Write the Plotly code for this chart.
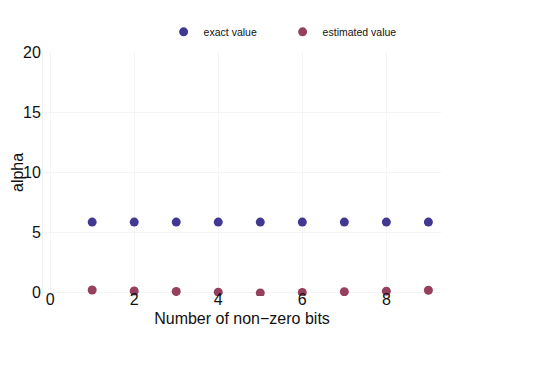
import plotly.graph_objects as go

bits = [1, 2, 3, 4, 5, 6, 7, 8, 9]
exact_value = [5.85, 5.85, 5.85, 5.85, 5.85, 5.85, 5.85, 5.85, 5.85]
estimated_value = [0.2, 0.12, 0.07, 0.02, -0.05, 0.0, 0.05, 0.1, 0.18]

blue = "#413891"
red = "#96405f"

fig = go.Figure()
fig.add_trace(go.Scatter(x=bits, y=exact_value, mode="markers", name="exact value",
                         marker=dict(color=blue, size=9)))
fig.add_trace(go.Scatter(x=bits, y=estimated_value, mode="markers", name="estimated value",
                         marker=dict(color=red, size=9)))

fig.update_layout(
    width=540, height=379,
    margin=dict(l=43, r=99, t=52, b=83, autoexpand=False),
    paper_bgcolor="white", plot_bgcolor="white",
    font=dict(family="Liberation Sans, Arial, sans-serif", color="#111"),
    showlegend=True,
    legend=dict(orientation="h", xref="container", yref="container",
                x=0.303, xanchor="left", y=0.916, yanchor="middle",
                font=dict(size=10.5), entrywidth=74, itemwidth=30, itemsizing="trace"),
    xaxis=dict(range=[-0.17, 9.3], tickvals=[0, 2, 4, 6, 8], tickfont=dict(size=16),
               showgrid=True, gridcolor="#f4f4f4", zeroline=False, showline=False,
               ticks="", ticklabelstandoff=-8, automargin=False,
               title=dict(text="Number of non\u2212zero bits", font=dict(size=16), standoff=5)),
    yaxis=dict(range=[-0.3, 20], tickvals=[0, 5, 10, 15, 20], tickfont=dict(size=16),
               showgrid=True, gridcolor="#f4f4f4", zeroline=False, showline=True,
               linecolor="#f0f0f0", ticks="", ticklabelstandoff=-2, automargin=False),
    annotations=[dict(text="alpha", textangle=-90, xref="paper", yref="paper",
                      x=(17 - 43) / 398, y=(296 - 172) / 244, xanchor="center",
                      yanchor="middle", showarrow=False, font=dict(size=16))],
)

fig.write_html("out.html")
